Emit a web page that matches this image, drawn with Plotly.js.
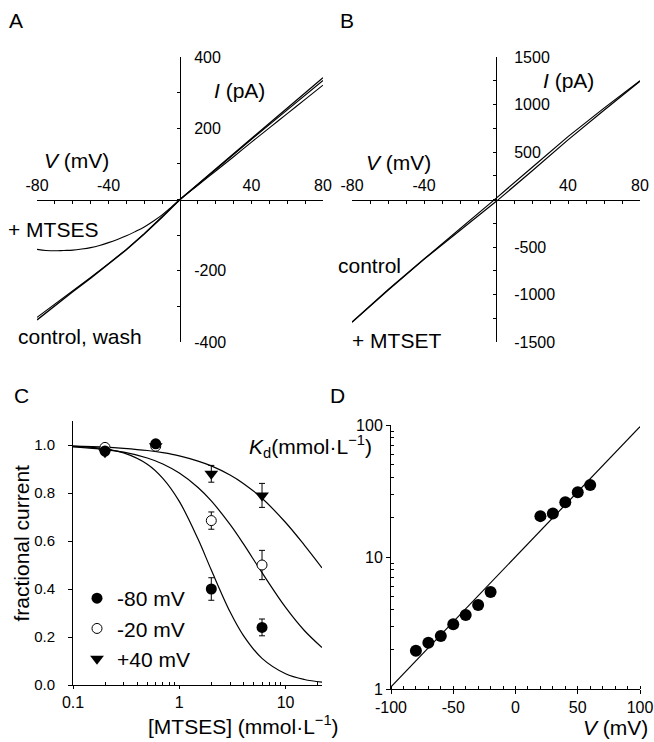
<!DOCTYPE html>
<html><head><meta charset="utf-8">
<script src="https://cdn.plot.ly/plotly-3.0.1.min.js"></script>
<style>body{margin:0;padding:0;background:#fff}#chart{width:654px;height:742px}</style>
</head><body><div id="chart"></div>
<script>
// ---------- Panel A: I-V, MTSES ----------
const aV = [-80,-70,-60,-50,-40,-30,-20,-10,0,10,20,30,40,50,60,70,80];
const aControlI = [-338,-298,-259,-221,-182,-141,-97,-50,0,43,86,129,171,213,256,299,342];
const aWashI = [-331,-294,-256,-219,-180,-140,-96,-49,0,42,85,127,169,210,251,292,334];
const aMtsesV = [-80,-75,-70,-65,-60,-55,-50,-45,-40,-35,-30,-25,-20,-15,-10,-5,0,10,20,30,40,50,60,70,80];
const aMtsesI = [-140,-143,-144,-143,-142,-139,-135,-129,-121,-112,-102,-90,-77,-61,-43,-22,0,40,80,120,161,201,241,281,321];
const aXTickVals = [-80,-40,40,80];
const aXTickText = ['-80','-40','40','80'];
const aYTickVals = [-400,-200,200,400];
const aYTickText = ['-400','-200','200','400'];

// ---------- Panel B: I-V, MTSET ----------
const bV = [-80,-60,-40,-20,0,20,40,60,80];
const bControlI = [-1293,-955,-630,-322,-22,300,628,940,1245];
const bMtsetI = [-1290,-950,-627,-312,12,337,662,962,1250];
const bXTickVals = [-80,-40,40,80];
const bXTickText = ['-80','-40','40','80'];
const bYTickVals = [-1500,-1000,-500,500,1000,1500];
const bYTickText = ['-1500','-1000','-500','500','1000','1500'];

// ---------- Panel C: dose response ----------
const cConc = [0.2, 0.6, 2, 6];
const cF80 = [0.975, 1.005, 0.40, 0.24];
const cErr80 = [0, 0, 0.047, 0.035];
const cF20 = [0.99, 0.995, 0.685, 0.50];
const cErr20 = [0, 0, 0.036, 0.061];
const cF40 = [0.97, 0.995, 0.88, 0.79];
const cErr40 = [0, 0, 0.035, 0.05];
const cCurveConc = [0.1,0.2,0.3,0.5,0.7,1,1.5,2,3,4,6,10,15,22];
const cCurve80 = [0.995,0.984,0.967,0.920,0.861,0.765,0.608,0.479,0.305,0.207,0.111,0.047,0.023,0.012];
const cCurve20 = [0.992,0.981,0.970,0.946,0.921,0.883,0.823,0.767,0.669,0.589,0.468,0.323,0.227,0.156];
const cCurve40 = [0.995,0.991,0.986,0.977,0.968,0.955,0.933,0.913,0.875,0.840,0.778,0.677,0.583,0.488];
const cXTickVals = [0.1, 1, 10];
const cXTickText = ['0.1','1','10'];
const cYTickVals = [0, 0.2, 0.4, 0.6, 0.8, 1.0];
const cYTickText = ['0.0','0.2','0.4','0.6','0.8','1.0'];
const cSeriesNames = ['-80 mV', '-20 mV', '+40 mV'];

// ---------- Panel D: Kd vs V ----------
const dV = [-80,-70,-60,-50,-40,-30,-20,20,30,40,50,60];
const dKd = [1.95,2.24,2.52,3.09,3.64,4.33,5.43,20.4,21.4,26,30.9,35.1];
const dFitV = [-100, 100];
const dFitKd = [1.04, 97];
const dXTickVals = [-100,-50,0,50,100];
const dXTickText = ['-100','-50','0','50','100'];
const dYTickVals = [1, 10, 100];
const dYTickText = ['1','10','100'];

// ---------- helpers ----------
const W = 654, H = 742;
const px = v => v / W;          // left->paper x
const py = v => 1 - v / H;      // top->paper y
const FONT = 'Arial, "Liberation Sans", sans-serif';
const logMinor = (lo, hi) => { const t = []; for (let d = lo; d < hi; d++) for (let k = 2; k <= 9; k++) t.push(k * Math.pow(10, d)); return t; };

const blackLine = w => ({color: '#000', width: w});
const traces = [
  // A
  {x: aV, y: aControlI, xaxis: 'x', yaxis: 'y', mode: 'lines', line: blackLine(1.4), showlegend: false, hoverinfo: 'skip'},
  {x: aV, y: aWashI, xaxis: 'x', yaxis: 'y', mode: 'lines', line: blackLine(1.1), showlegend: false, hoverinfo: 'skip'},
  {x: aMtsesV, y: aMtsesI, xaxis: 'x', yaxis: 'y', mode: 'lines', showlegend: false, hoverinfo: 'skip', line: {color: '#000', width: 1.1, shape: 'spline'}},
  // B
  {x: bV, y: bControlI, xaxis: 'x2', yaxis: 'y2', mode: 'lines', line: blackLine(1.2), showlegend: false, hoverinfo: 'skip'},
  {x: bV, y: bMtsetI, xaxis: 'x2', yaxis: 'y2', mode: 'lines', line: blackLine(1.2), showlegend: false, hoverinfo: 'skip'},
  // C curves
  {x: cCurveConc, y: cCurve80, xaxis: 'x3', yaxis: 'y3', mode: 'lines', line: {color: '#000', width: 1.2, shape: 'spline'}, showlegend: false},
  {x: cCurveConc, y: cCurve20, xaxis: 'x3', yaxis: 'y3', mode: 'lines', line: {color: '#000', width: 1.2, shape: 'spline'}, showlegend: false},
  {x: cCurveConc, y: cCurve40, xaxis: 'x3', yaxis: 'y3', mode: 'lines', line: {color: '#000', width: 1.2, shape: 'spline'}, showlegend: false},
  // C points
  {x: cConc, y: cF40, name: cSeriesNames[2], legendrank: 3, xaxis: 'x3', yaxis: 'y3', mode: 'markers',
   marker: {symbol: 'triangle-down', size: 12, color: '#000'},
   error_y: {type: 'data', array: cErr40, color: '#000', thickness: 1, width: 3}},
  {x: cConc, y: cF20, name: cSeriesNames[1], legendrank: 2, xaxis: 'x3', yaxis: 'y3', mode: 'markers',
   marker: {symbol: 'circle', size: 10, color: '#fff', line: {color: '#000', width: 1}},
   error_y: {type: 'data', array: cErr20, color: '#000', thickness: 1, width: 3}},
  {x: cConc, y: cF80, name: cSeriesNames[0], legendrank: 1, xaxis: 'x3', yaxis: 'y3', mode: 'markers',
   marker: {symbol: 'circle', size: 11, color: '#000'},
   error_y: {type: 'data', array: cErr80, color: '#000', thickness: 1, width: 3}},
  // D
  {x: dFitV, y: dFitKd, xaxis: 'x4', yaxis: 'y4', mode: 'lines', line: blackLine(1.2), showlegend: false},
  {x: dV, y: dKd, xaxis: 'x4', yaxis: 'y4', mode: 'markers', marker: {symbol: 'circle', size: 12, color: '#000'}, showlegend: false}
];

const base = {showgrid: false, zeroline: false, showline: true, linecolor: '#000', linewidth: 1,
  tickcolor: '#000', tickwidth: 1, tickfont: {size: 16, color: '#000', family: FONT}, fixedrange: true};

const layout = {
  width: W, height: H,
  margin: {l: 0, r: 0, t: 0, b: 0},
  paper_bgcolor: '#fff', plot_bgcolor: 'rgba(0,0,0,0)',
  font: {family: FONT, color: '#000', size: 16},
  showlegend: true,
  legend: {x: px(77), y: py(578), xanchor: 'left', yanchor: 'top', font: {size: 21, family: FONT, color: '#000'},
    bgcolor: 'rgba(0,0,0,0)', borderwidth: 0, tracegroupgap: 0, traceorder: 'normal'},
  // A
  xaxis: Object.assign({}, base, {domain: [px(37), px(323)], range: [-80, 80], anchor: 'free', position: py(200), side: 'top',
    tickmode: 'array', tickvals: aXTickVals, ticktext: aXTickText, ticks: 'inside', ticklen: 3, ticklabelstandoff: 3,
    minor: {dtick: 10, tick0: 0, ticks: 'inside', ticklen: 3, tickcolor: '#000'}}),
  yaxis: Object.assign({}, base, {domain: [py(342), py(57)], range: [-400, 400], anchor: 'free', position: px(180), side: 'right',
    tickmode: 'array', tickvals: aYTickVals, ticktext: aYTickText, ticks: 'inside', ticklen: 3, ticklabelstandoff: 10,
    minor: {dtick: 100, tick0: 0, ticks: 'inside', ticklen: 3, tickcolor: '#000'}}),
  // B
  xaxis2: Object.assign({}, base, {domain: [px(352), px(640)], range: [-80, 80], anchor: 'free', position: py(200), side: 'top',
    tickmode: 'array', tickvals: bXTickVals, ticktext: bXTickText, ticks: 'inside', ticklen: 3, ticklabelstandoff: 3,
    minor: {dtick: 10, tick0: 0, ticks: 'inside', ticklen: 3, tickcolor: '#000'}}),
  yaxis2: Object.assign({}, base, {domain: [py(342), py(57)], range: [-1500, 1500], anchor: 'free', position: px(496), side: 'right',
    tickmode: 'array', tickvals: bYTickVals, ticktext: bYTickText, ticks: 'inside', ticklen: 3, ticklabelstandoff: 14,
    minor: {dtick: 250, tick0: 0, ticks: 'inside', ticklen: 3, tickcolor: '#000'}}),
  // C
  xaxis3: Object.assign({}, base, {type: 'log', domain: [px(73), px(322)], range: [-1, Math.log10(22)], anchor: 'y3',
    tickmode: 'array', tickvals: cXTickVals, ticktext: cXTickText, ticks: 'outside', ticklen: 3,
    minor: {tickmode: 'array', tickvals: logMinor(-1, 2), ticks: 'inside', ticklen: 3, tickcolor: '#000'}}),
  yaxis3: Object.assign({}, base, {domain: [py(685), py(421)], range: [0, 1.1], anchor: 'x3',
    tickmode: 'array', tickvals: cYTickVals, ticktext: cYTickText, ticks: 'outside', ticklen: 4, ticklabelstandoff: 10,
    tickfont: {size: 15, color: '#000', family: FONT}}),
  // D
  xaxis4: Object.assign({}, base, {domain: [px(391), px(640)], range: [-100, 100], anchor: 'y4',
    tickmode: 'array', tickvals: dXTickVals, ticktext: dXTickText, ticks: 'outside', ticklen: 4,
    minor: {dtick: 10, tick0: 0, ticks: 'inside', ticklen: 3, tickcolor: '#000'}}),
  yaxis4: Object.assign({}, base, {type: 'log', domain: [py(689), py(425)], range: [0, 2], anchor: 'x4',
    tickmode: 'array', tickvals: dYTickVals, ticktext: dYTickText, ticks: 'outside', ticklen: 4,
    minor: {tickmode: 'array', tickvals: logMinor(0, 2), ticks: 'inside', ticklen: 3, tickcolor: '#000'}}),
  annotations: []
};

const ann = (text, x, y, xanchor, extra) => Object.assign({text: text, x: px(x), y: py(y), xref: 'paper', yref: 'paper',
  xanchor: xanchor, yanchor: 'middle', showarrow: false, font: {size: 21, family: FONT, color: '#000'}}, extra || {});
layout.annotations.push(
  ann('A', 16, 20, 'center'),
  ann('B', 347, 20, 'center'),
  ann('C', 21, 395, 'center'),
  ann('D', 337, 395, 'center'),
  ann('+ MTSES', 6, 230, 'left'),
  ann('control, wash', 16, 336, 'left'),
  ann('<i>V</i> (mV)', 42, 160, 'left'),
  ann('<i>I</i> (pA)', 212, 91, 'left'),
  ann('<i>I</i> (pA)', 541, 80, 'left'),
  ann('<i>V</i> (mV)', 364, 162, 'left'),
  ann('control', 336, 265, 'left'),
  ann('+ MTSET', 350, 340, 'left'),
  ann('fractional current', 7, 543, 'left', {textangle: -90}),
  ann('[MTSES] (mmol·L<sup>−1</sup>)', 146, 725, 'left'),
  ann('<i>K</i><sub>d</sub>(mmol·L<sup>−1</sup>)', 247, 446, 'left'),
  ann('<i>V</i> (mV)', 650, 741, 'right', {yanchor: 'bottom'})
);

Plotly.newPlot('chart', traces, layout, {staticPlot: true, displayModeBar: false});
</script>
</body></html>
